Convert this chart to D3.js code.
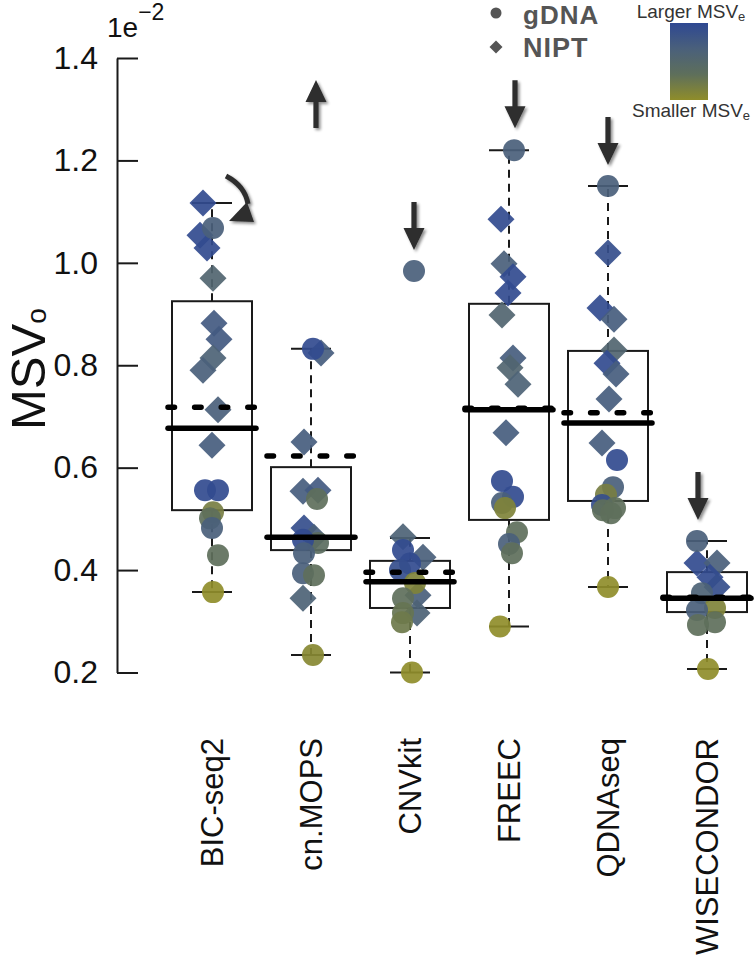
<!DOCTYPE html>
<html>
<head>
<meta charset="utf-8">
<script src="https://cdn.jsdelivr.net/npm/d3@7"></script>
<style>
  html, body { margin: 0; padding: 0; background: #fff; }
  svg { display: block; font-family: "Liberation Sans", Arial, Helvetica, sans-serif; }
</style>
</head>
<body>
<svg id="chart" width="756" height="962"></svg>
<script>
// ---------------- data ----------------
const categories = ["BIC-seq2", "cn.MOPS", "CNVkit", "FREEC", "QDNAseq", "WISECONDOR"];
const yTicks = [0.2, 0.4, 0.6, 0.8, 1.0, 1.2, 1.4];

// box statistics (x 1e-2)
const q1 = [0.517, 0.439, 0.326, 0.498, 0.535, 0.318];
const q3 = [0.925, 0.601, 0.418, 0.920, 0.828, 0.396];
const medians = [0.677, 0.464, 0.377, 0.713, 0.687, 0.345];
const means = [0.718, 0.623, 0.396, 0.716, 0.707, 0.347];
const whiskerLow = [0.357, 0.234, 0.200, 0.290, 0.367, 0.207];
const whiskerHigh = [1.117, 0.832, 0.4625, 1.220, 1.150, 0.457];

// points: value, kind (g = gDNA, n = NIPT), shade (0 smaller MSVe .. 1 larger MSVe), jitter (px)
const bicV = [1.117, 1.068, 1.054, 1.029, 0.970, 0.882, 0.851, 0.814, 0.790, 0.713, 0.644, 0.556, 0.556, 0.513, 0.501, 0.482, 0.429, 0.357];
const bicK = ["n","g","n","n","n","n","n","n","n","n","n","g","g","g","g","g","g","g"];
const bicC = [0.95, 0.6, 0.95, 0.95, 0.5, 0.7, 0.7, 0.55, 0.6, 0.6, 0.65, 0.95, 0.95, 0.15, 0.3, 0.6, 0.3, 0.0];
const bicJ = [-9, 1, -12, -5, 1, 2, 7, 1, -9, 6, 0, -7, 6, 1, -2, 0, 6, 1];

const mopsV = [0.832, 0.824, 0.650, 0.554, 0.556, 0.539, 0.482, 0.464, 0.453, 0.459, 0.433, 0.394, 0.390, 0.345, 0.234];
const mopsK = ["g","n","n","n","n","g","n","n","g","g","g","g","g","n","g"];
const mopsC = [0.95, 0.65, 0.65, 0.65, 0.7, 0.3, 0.9, 0.6, 0.35, 0.95, 0.6, 0.6, 0.3, 0.55, 0.05];
const mopsJ = [2, 10, -7, -8, 7, 6, -7, 3, 7, -8, -7, -8, 3, -8, 2];

const cnvV = [0.984, 0.465, 0.439, 0.425, 0.413, 0.400, 0.375, 0.351, 0.345, 0.316, 0.316, 0.298, 0.200];
const cnvK = ["g","n","g","n","g","g","g","n","g","n","g","g","g"];
const cnvC = [0.6, 0.55, 0.95, 0.6, 0.95, 0.9, 0.1, 0.6, 0.3, 0.55, 0.25, 0.2, 0.0];
const cnvJ = [4, -7, -7, 13, 0, -10, 5, 8, -7, 7, -7, -8, 2];

const freecV = [1.220, 1.085, 0.998, 0.973, 0.941, 0.898, 0.814, 0.795, 0.763, 0.668, 0.574, 0.543, 0.531, 0.521, 0.474, 0.451, 0.433, 0.290];
const freecK = ["g","n","n","n","n","n","n","n","n","n","g","g","g","g","g","g","g","g"];
const freecC = [0.6, 0.95, 0.6, 0.95, 0.95, 0.5, 0.65, 0.5, 0.55, 0.65, 0.95, 0.95, 0.6, 0.1, 0.3, 0.6, 0.3, 0.0];
const freecJ = [5, -8, -5, 4, -1, -7, 4, 1, 9, -3, -7, 4, -7, -4, 8, 0, 3, -9];

const qdnaV = [1.150, 1.019, 0.912, 0.890, 0.830, 0.804, 0.783, 0.734, 0.648, 0.615, 0.562, 0.547, 0.527, 0.517, 0.521, 0.511, 0.367];
const qdnaK = ["g","n","n","n","n","n","n","n","n","g","g","g","g","g","g","g","g"];
const qdnaC = [0.6, 0.9, 0.95, 0.65, 0.5, 0.95, 0.65, 0.65, 0.65, 0.95, 0.6, 0.15, 0.9, 0.3, 0.3, 0.3, 0.0];
const qdnaJ = [0, 0, -8, 6, 6, -1, 8, 1, -6, 9, 5, -2, -6, -5, 7, 3, 0];

const wiseV = [0.457, 0.414, 0.414, 0.386, 0.367, 0.355, 0.326, 0.322, 0.298, 0.293, 0.207];
const wiseK = ["g","n","n","n","n","g","g","g","g","g","g"];
const wiseC = [0.6, 0.95, 0.6, 0.95, 0.9, 0.55, 0.1, 0.6, 0.3, 0.3, 0.0];
const wiseJ = [-10, -10, 10, 3, 10, -5, 8, -10, 8, -9, 1];

const pointSets = [
  [bicV, bicK, bicC, bicJ],
  [mopsV, mopsK, mopsC, mopsJ],
  [cnvV, cnvK, cnvC, cnvJ],
  [freecV, freecK, freecC, freecJ],
  [qdnaV, qdnaK, qdnaC, qdnaJ],
  [wiseV, wiseK, wiseC, wiseJ]
];

// annotation arrows: category, tip value, direction, x nudge
const arrowCat = ["cn.MOPS", "CNVkit", "FREEC", "QDNAseq", "WISECONDOR"];
const arrowTip = [1.357, 1.025, 1.263, 1.191, 0.498];
const arrowDir = ["up", "down", "down", "down", "down"];
const arrowNudge = [5, 4, 6, 0, -9];

// ---------------- chart ----------------
const svg = d3.select("#chart");
const y = d3.scaleLinear().domain([0.2, 1.4]).range([672.5, 58]);
const x = d3.scalePoint().domain(categories).range([212, 707]);
const color = d3.scaleLinear()
  .domain([0, 0.3, 0.6, 1])
  .range(["#8f8d2a", "#5e6f5b", "#4a607b", "#2e4892"]);

const defs = svg.append("defs");
const shadow = defs.append("filter").attr("id", "shadow")
  .attr("x", "-50%").attr("y", "-50%").attr("width", "200%").attr("height", "200%");
shadow.append("feGaussianBlur").attr("in", "SourceAlpha").attr("stdDeviation", 1.5);
shadow.append("feOffset").attr("dx", 1.5).attr("dy", 1.5).attr("result", "ob");
shadow.append("feComponentTransfer").append("feFuncA").attr("type", "linear").attr("slope", 0.45);
const merge = shadow.append("feMerge");
merge.append("feMergeNode");
merge.append("feMergeNode").attr("in", "SourceGraphic");

const grad = defs.append("linearGradient").attr("id", "cbar")
  .attr("x1", 0).attr("y1", 0).attr("x2", 0).attr("y2", 1);
[1, 0.6, 0.3, 0].forEach((s, i, arr) => {
  grad.append("stop").attr("offset", (i / (arr.length - 1) * 100) + "%").attr("stop-color", color(s));
});

// y axis
const yAxis = d3.axisLeft(y).tickValues(yTicks).tickFormat(d3.format(".1f"))
  .tickSizeInner(-21).tickSizeOuter(0).tickPadding(19);
const ga = svg.append("g").attr("transform", "translate(117,0)").call(yAxis);
ga.select(".domain").attr("stroke", "#1a1a1a").attr("stroke-width", 2);
ga.selectAll(".tick line").attr("stroke", "#1a1a1a").attr("stroke-width", 2);
ga.selectAll(".tick text").attr("font-size", 32).attr("fill", "#111")
  .attr("font-family", "'Liberation Sans', Arial, sans-serif");

// exponent
const ex = svg.append("text").attr("x", 107).attr("y", 37).attr("font-size", 28).attr("fill", "#111");
ex.append("tspan").text("1e");
ex.append("tspan").attr("font-size", 23).attr("dy", -17).text("\u22122");

// y label
const yl = svg.append("text").attr("transform", "translate(45,430) rotate(-90)")
  .attr("font-size", 49).attr("fill", "#111");
yl.append("tspan").text("MSV");
yl.append("tspan").attr("font-size", 28).attr("dy", 1).text("o");

// x labels
svg.append("g").selectAll("text").data(categories).join("text")
  .attr("transform", d => `translate(${x(d) + 11},738) rotate(-90)`)
  .attr("text-anchor", "end").attr("font-size", 31).attr("fill", "#111")
  .text(d => d);

const boxW = 80, capW = 40, ext = 7;

// whiskers
const gw = svg.append("g").attr("stroke", "#1a1a1a").attr("stroke-width", 2);
categories.forEach((c, i) => {
  const cx = x(c);
  gw.append("line").attr("x1", cx).attr("x2", cx).attr("y1", y(q3[i])).attr("y2", y(whiskerHigh[i]))
    .attr("stroke-dasharray", "8,6");
  gw.append("line").attr("x1", cx).attr("x2", cx).attr("y1", y(q1[i])).attr("y2", y(whiskerLow[i]))
    .attr("stroke-dasharray", "8,6");
  gw.append("line").attr("x1", cx - capW / 2).attr("x2", cx + capW / 2)
    .attr("y1", y(whiskerHigh[i])).attr("y2", y(whiskerHigh[i]));
  gw.append("line").attr("x1", cx - capW / 2).attr("x2", cx + capW / 2)
    .attr("y1", y(whiskerLow[i])).attr("y2", y(whiskerLow[i]));
});

// boxes
svg.append("g").selectAll("rect").data(categories).join("rect")
  .attr("x", d => x(d) - boxW / 2).attr("width", boxW)
  .attr("y", (d, i) => y(q3[i])).attr("height", (d, i) => y(q1[i]) - y(q3[i]))
  .attr("fill", "none").attr("stroke", "#1a1a1a").attr("stroke-width", 2);

// points
const diamond = d3.symbol().type(d3.symbolSquare).size(364);
const gp = svg.append("g");
pointSets.forEach((set, i) => {
  const [vals, kinds, shades, jit] = set;
  const cx = x(categories[i]);
  const rows = vals.map((v, j) => ({ v, k: kinds[j], s: shades[j], j: jit[j] }));
  rows.filter(r => r.k === "n").forEach(r => {
    gp.append("path").attr("d", diamond())
      .attr("transform", `translate(${cx + r.j},${y(r.v)}) rotate(45)`)
      .attr("fill", color(r.s)).attr("fill-opacity", 0.92);
  });
  rows.filter(r => r.k === "g").forEach(r => {
    gp.append("circle").attr("cx", cx + r.j).attr("cy", y(r.v)).attr("r", 11)
      .attr("fill", color(r.s)).attr("fill-opacity", 0.92);
  });
});

// medians & means
const gm = svg.append("g").attr("stroke", "#000").attr("stroke-linecap", "round");
categories.forEach((c, i) => {
  const cx = x(c);
  gm.append("line").attr("x1", cx - boxW / 2 - ext + 3).attr("x2", cx + boxW / 2 + ext - 3)
    .attr("y1", y(medians[i])).attr("y2", y(medians[i])).attr("stroke-width", 5.5);
  gm.append("line").attr("x1", cx - boxW / 2 - ext + 3).attr("x2", cx + boxW / 2 + ext - 3)
    .attr("y1", y(means[i])).attr("y2", y(means[i])).attr("stroke-width", 5.5)
    .attr("stroke-dasharray", "6.5,20.1");
});

// arrows
const ga2 = svg.append("g").attr("fill", "#2e2e2e").attr("filter", "url(#shadow)");
arrowCat.forEach((c, i) => {
  const ax = x(c) + arrowNudge[i];
  const tip = y(arrowTip[i]);
  const s = arrowDir[i] === "down" ? -1 : 1; // shaft direction relative to tip
  const headL = 22, shaftL = 26, hw = 10.5, sw = 2.6;
  const base = tip + s * headL, end = tip + s * (headL + shaftL);
  ga2.append("path").attr("d",
    `M${ax},${tip} L${ax + hw},${base} L${ax + sw},${base} L${ax + sw},${end} ` +
    `L${ax - sw},${end} L${ax - sw},${base} L${ax - hw},${base} Z`);
});
// curved arrow for BIC-seq2
{
  const bx = x("BIC-seq2"), by = y(whiskerHigh[0]);
  const g = svg.append("g").attr("filter", "url(#shadow)");
  g.append("path").attr("d", `M${bx + 14},${by - 27} Q${bx + 33},${by - 17} ${bx + 36},${by + 1}`)
    .attr("fill", "none").attr("stroke", "#2e2e2e").attr("stroke-width", 5);
  g.append("path").attr("d", `M${bx + 17},${by + 18} L${bx + 42},${by + 19} L${bx + 35},${by - 1} Z`)
    .attr("fill", "#2e2e2e");
}

// legend: shapes
svg.append("circle").attr("cx", 496).attr("cy", 13).attr("r", 5.5).attr("fill", "#555");
svg.append("path").attr("d", d3.symbol().type(d3.symbolSquare).size(85)())
  .attr("transform", "translate(496,47) rotate(45)").attr("fill", "#555");
svg.append("text").attr("x", 523).attr("y", 24).attr("font-size", 26).attr("font-weight", "bold")
  .attr("letter-spacing", 1).attr("fill", "#555").text("gDNA");
svg.append("text").attr("x", 523).attr("y", 57).attr("font-size", 27).attr("font-weight", "bold")
  .attr("letter-spacing", 1).attr("fill", "#555").text("NIPT");

// legend: colour bar
svg.append("rect").attr("x", 670).attr("y", 23).attr("width", 38).attr("height", 77)
  .attr("fill", "url(#cbar)");
const lt = svg.append("text").attr("x", 691).attr("y", 18).attr("text-anchor", "middle")
  .attr("font-size", 19).attr("fill", "#333");
lt.append("tspan").text("Larger MSV");
lt.append("tspan").attr("font-size", 13).attr("dy", 3).text("e");
const st = svg.append("text").attr("x", 691).attr("y", 117).attr("text-anchor", "middle")
  .attr("font-size", 19).attr("fill", "#333");
st.append("tspan").text("Smaller MSV");
st.append("tspan").attr("font-size", 13).attr("dy", 3).text("e");
</script>
</body>
</html>
